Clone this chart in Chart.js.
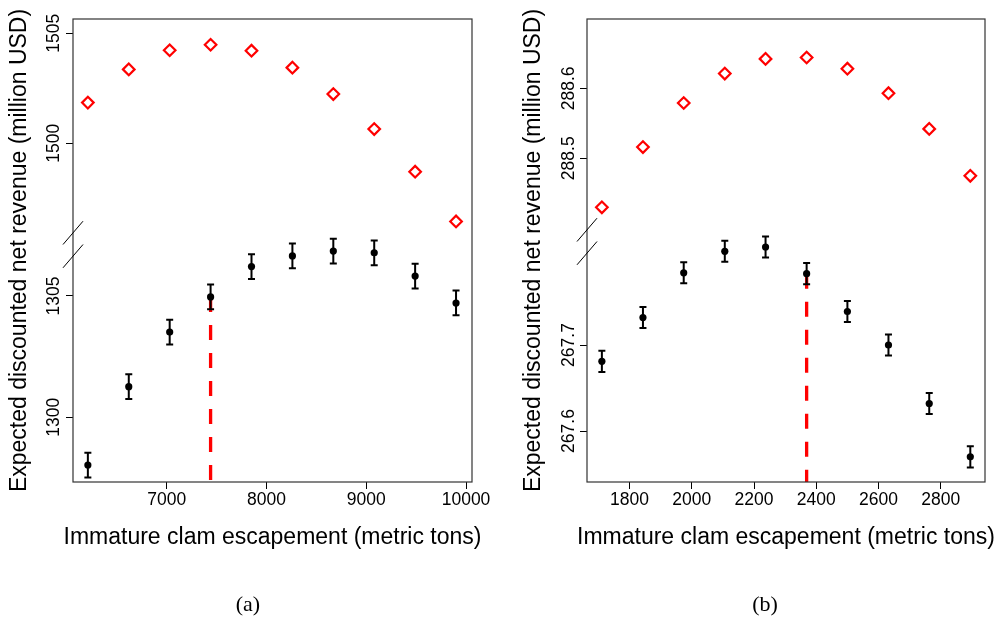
<!DOCTYPE html>
<html>
<head>
<meta charset="utf-8">
<script src="https://cdn.jsdelivr.net/npm/chart.js@4.4.1/dist/chart.umd.min.js"></script>
<style>
  body { margin: 0; background: #fff; }
  #page { position: relative; width: 998px; height: 622px; overflow: hidden; }
  .panel { position: absolute; top: 0; width: 499px; height: 622px; }
  .caption {
    position: absolute; top: 592px; width: 100px; text-align: center;
    font-family: 'Liberation Serif', serif; font-size: 22px; line-height: 24px; color: #000;
  }
</style>
</head>
<body>
<div id="page">
  <div class="panel" style="left:0"><canvas id="chart-a"></canvas></div>
  <div class="panel" style="left:499px"><canvas id="chart-b"></canvas></div>
  <div class="caption" style="left:198px">(a)</div>
  <div class="caption" style="left:715px">(b)</div>
</div>
<script>
// Panel (a)
const escA = [6210, 6620, 7030, 7440, 7850, 8260, 8670, 9080, 9490, 9900];
const detA = [1501.85, 1503.36, 1504.23, 1504.48, 1504.21, 1503.44, 1502.24, 1500.65, 1498.71, 1496.45];
const simA = [1298.03, 1301.26, 1303.51, 1304.96, 1306.21, 1306.65, 1306.85, 1306.78, 1305.82, 1304.71];
const errA = [0.51, 0.51, 0.51, 0.51, 0.51, 0.51, 0.51, 0.51, 0.51, 0.51];
const optA = 7440;
const xTicksA = [7000, 8000, 9000, 10000];
const yTopTicksA = [1500, 1505];
const yBotTicksA = [1300, 1305];

// Panel (b)
const escB = [1711, 1843, 1974, 2106, 2237, 2369, 2500, 2632, 2763, 2895];
const detB = [288.430, 288.516, 288.579, 288.621, 288.642, 288.644, 288.628, 288.593, 288.542, 288.475];
const simB = [267.681, 267.732, 267.784, 267.809, 267.814, 267.783, 267.739, 267.700, 267.632, 267.570];
const errB = [0.0123, 0.0123, 0.0123, 0.0123, 0.0123, 0.0123, 0.0123, 0.0123, 0.0123, 0.0123];
const optB = 2369;
const xTicksB = [1800, 2000, 2200, 2400, 2600, 2800];
const yTopTicksB = ['288.5', '288.6'];
const yBotTicksB = ['267.6', '267.7'];

const yTitle = 'Expected discounted net revenue (million USD)';
const xTitle = 'Immature clam escapement (metric tons)';
const FONT = "'Liberation Sans', Arial, sans-serif";

// Red dashed optimum line, error bars, box, axis break marks, axis titles
function panelDecor(esc, sim, err, opt) {
    return {
        id: 'panelDecor',
        beforeDatasetsDraw(chart) {
            const ctx = chart.ctx;
            const area = chart.chartArea;
            const xs = chart.scales.x;
            const yb = chart.scales.yBot;
            const i = esc.indexOf(opt);
            const px = xs.getPixelForValue(opt);

            ctx.save();
            ctx.strokeStyle = '#ff0000';
            ctx.lineWidth = 3.3;
            ctx.setLineDash([15, 13]);
            ctx.beginPath();
            ctx.moveTo(px, yb.getPixelForValue(sim[i]));
            ctx.lineTo(px, area.bottom);
            ctx.stroke();

            ctx.setLineDash([]);
            ctx.strokeStyle = '#000';
            ctx.lineWidth = 2;
            esc.forEach((x, k) => {
                const cx = xs.getPixelForValue(x);
                const hi = yb.getPixelForValue(sim[k] + err[k]);
                const lo = yb.getPixelForValue(sim[k] - err[k]);
                ctx.beginPath();
                ctx.moveTo(cx, hi); ctx.lineTo(cx, lo);
                ctx.moveTo(cx - 3.5, hi); ctx.lineTo(cx + 3.5, hi);
                ctx.moveTo(cx - 3.5, lo); ctx.lineTo(cx + 3.5, lo);
                ctx.stroke();
            });
            ctx.restore();
        },
        afterDraw(chart) {
            const ctx = chart.ctx;
            const area = chart.chartArea;
            const brk = chart.scales.yTop.bottom;

            ctx.save();
            // plot box
            ctx.strokeStyle = '#333';
            ctx.lineWidth = 1.2;
            ctx.strokeRect(area.left, area.top, area.right - area.left, area.bottom - area.top);

            // break marks on the left axis
            ctx.strokeStyle = '#000';
            ctx.lineWidth = 1;
            ctx.beginPath();
            ctx.moveTo(area.left - 10, brk - 0.5);
            ctx.lineTo(area.left + 10, brk - 23.8);
            ctx.moveTo(area.left - 10, brk + 22.8);
            ctx.lineTo(area.left + 10, brk - 0.5);
            ctx.stroke();

            // axis titles (no width limit, the x title is wider than the plot)
            ctx.fillStyle = '#000';
            ctx.font = "23px " + FONT;
            ctx.textAlign = 'center';
            ctx.textBaseline = 'middle';
            ctx.fillText(xTitle, (area.left + area.right) / 2, area.bottom + 56);
            ctx.translate(area.left - 53, (area.top + area.bottom) / 2);
            ctx.rotate(-Math.PI / 2);
            ctx.fillText(yTitle, 0, 0);
            ctx.restore();
        }
    };
}

function yScale(min, max, ticks, weight, stackWeight, axisWidth, pad) {
    return {
        type: 'linear',
        position: 'left',
        stack: 'rev',
        stackWeight: stackWeight,
        weight: weight,
        min: min,
        max: max,
        afterBuildTicks: (s) => { s.ticks = ticks.map(v => ({ value: Number(v), label: String(v) })); },
        afterFit: (s) => { s.width = axisWidth; },
        border: { display: false },
        grid: { drawOnChartArea: false, drawTicks: true, tickLength: 7, tickColor: '#000', tickWidth: 1 },
        ticks: {
            color: '#000',
            font: { family: FONT, size: 17.5 },
            minRotation: 90,
            maxRotation: 90,
            crossAlign: 'center',
            padding: pad,
            callback: (v, k) => String(ticks[k])
        }
    };
}

function buildChart(id, p) {
    const ctx = document.getElementById(id).getContext('2d');
    return new Chart(ctx, {
        type: 'scatter',
        data: {
            datasets: [
                {
                    label: 'deterministic',
                    data: p.esc.map((x, k) => ({ x: x, y: p.det[k] })),
                    yAxisID: 'yTop',
                    pointStyle: 'rectRot',
                    pointRadius: 5.8,
                    borderWidth: 2.2,
                    borderColor: '#ff0000',
                    backgroundColor: 'rgba(0,0,0,0)'
                },
                {
                    label: 'simulated',
                    data: p.esc.map((x, k) => ({ x: x, y: p.sim[k] })),
                    yAxisID: 'yBot',
                    pointStyle: 'circle',
                    pointRadius: 3.6,
                    borderWidth: 0,
                    backgroundColor: '#000'
                }
            ]
        },
        options: {
            responsive: true,
            maintainAspectRatio: false,
            animation: false,
            events: [],
            layout: { padding: { top: 19, left: 0, right: p.padRight, bottom: 70 } },
            plugins: { legend: { display: false }, tooltip: { enabled: false } },
            scales: {
                x: {
                    type: 'linear',
                    position: 'bottom',
                    min: p.xMin,
                    max: p.xMax,
                    afterBuildTicks: (s) => { s.ticks = p.xTicks.map(v => ({ value: v })); },
                    afterFit: (s) => { s.height = 70; },
                    border: { display: false },
                    grid: { drawOnChartArea: false, drawTicks: true, tickLength: 7, tickColor: '#000', tickWidth: 1 },
                    ticks: {
                        color: '#000',
                        font: { family: FONT, size: 17.5 },
                        maxRotation: 0,
                        padding: 1,
                        callback: (v) => String(v)
                    }
                },
                yTop: yScale(p.topMin, p.topMax, p.topTicks, 1, p.topWeight, p.axisWidth, p.pad),
                yBot: yScale(p.botMin, p.botMax, p.botTicks, 0, p.botWeight, p.axisWidth, p.pad)
            }
        },
        plugins: [panelDecor(p.esc, p.sim, p.err, p.opt)]
    });
}

buildChart('chart-a', {
    esc: escA, det: detA, sim: simA, err: errA, opt: optA,
    xTicks: xTicksA, topTicks: yTopTicksA, botTicks: yBotTicksA,
    xMin: 6061, xMax: 10060,
    topMin: 1495.38, topMax: 1505.65, topWeight: 226,
    botMin: 1297.33, botMax: 1307.10, botWeight: 237,
    axisWidth: 73, pad: -8, padRight: 27
});

buildChart('chart-b', {
    esc: escB, det: detB, sim: simB, err: errB, opt: optB,
    xTicks: xTicksB, topTicks: yTopTicksB, botTicks: yBotTicksB,
    xMin: 1663.2, xMax: 2942.2,
    topMin: 288.3804, topMax: 288.699, topWeight: 223,
    botMin: 267.5407, botMax: 267.8198, botWeight: 240,
    axisWidth: 88, pad: -10.9, padRight: 13
});
</script>
</body>
</html>
